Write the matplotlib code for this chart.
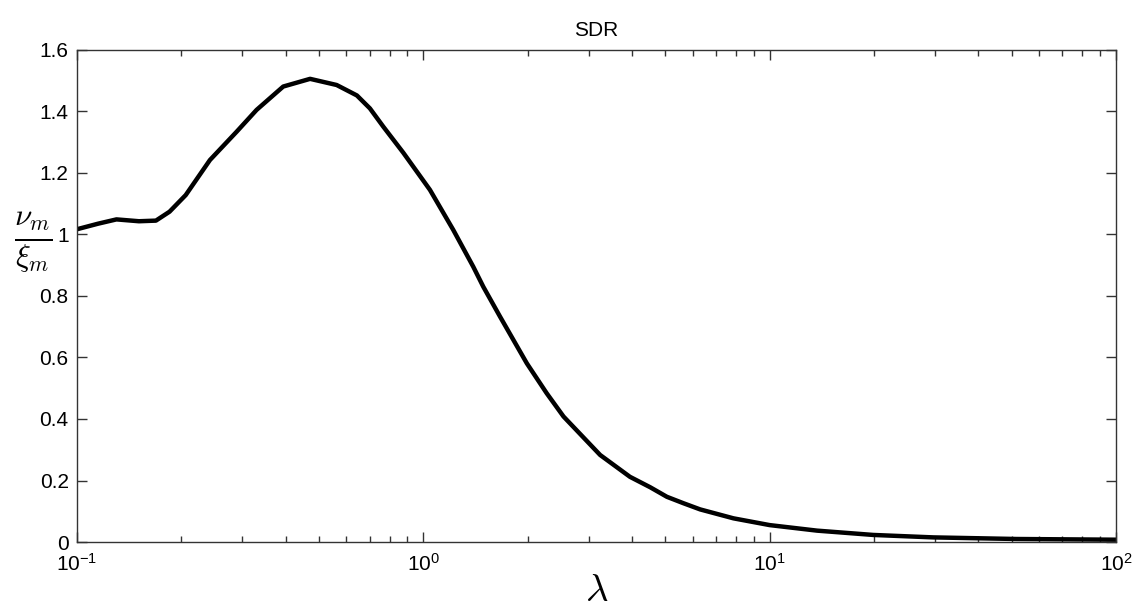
import matplotlib
matplotlib.use("Agg")
import matplotlib.pyplot as plt
from matplotlib.ticker import LogLocator, NullFormatter
import numpy as np

# values
lam = [0.1, 0.115, 0.130, 0.151, 0.169, 0.185, 0.206, 0.242, 0.289, 0.330,
       0.394, 0.471, 0.562, 0.643, 0.701, 0.767, 0.875, 1.045, 1.22, 1.394,
       1.49, 1.665, 1.99, 2.27, 2.54, 3.24, 3.95, 4.52, 5.05, 5.64, 6.3,
       7.86, 10.0, 13.7, 19.9, 29.7, 51.6, 100.0]
sdr = [1.017, 1.035, 1.049, 1.043, 1.045, 1.074, 1.128, 1.242, 1.334, 1.405,
       1.481, 1.506, 1.486, 1.452, 1.410, 1.350, 1.266, 1.145, 1.015, 0.895,
       0.830, 0.733, 0.581, 0.484, 0.408, 0.283, 0.212, 0.178, 0.147, 0.126,
       0.106, 0.077, 0.055, 0.037, 0.023, 0.015, 0.0098, 0.0075]

yticks = [0, 0.2, 0.4, 0.6, 0.8, 1, 1.2, 1.4, 1.6]
ytick_labels = ["0", "0.2", "0.4", "0.6", "0.8", "1", "1.2", "1.4", "1.6"]
xticks = [0.1, 1, 10, 100]
xtick_labels = [r"$\mathregular{10^{-1}}$", r"$\mathregular{10^{0}}$",
                r"$\mathregular{10^{1}}$", r"$\mathregular{10^{2}}$"]

plt.rcParams["font.family"] = ["Liberation Sans", "DejaVu Sans"]
plt.rcParams["mathtext.fontset"] = "custom"
plt.rcParams["mathtext.rm"] = "Liberation Sans"

fig = plt.figure(figsize=(11.34, 6.09), dpi=100)
ax = fig.add_axes([0.0679, 0.110, 0.9162, 0.808])

ax.plot(lam, sdr, color="black", lw=3.2, solid_capstyle="butt",
        solid_joinstyle="round")

ax.set_xscale("log")
ax.set_xlim(0.1, 100)
ax.set_ylim(0, 1.6)
ax.set_xticks(xticks)
ax.set_xticklabels(xtick_labels)
ax.xaxis.set_minor_locator(LogLocator(base=10, subs=np.arange(2, 10)))
ax.xaxis.set_minor_formatter(NullFormatter())
ax.set_yticks(yticks)
ax.set_yticklabels(ytick_labels)

ax.tick_params(which="both", direction="in", top=True, right=True,
               labelsize=15, colors="#333333", labelcolor="black")
ax.tick_params(which="major", length=7, width=1)
ax.tick_params(which="minor", length=4, width=1)
ax.tick_params(axis="x", which="major", pad=8)
ax.tick_params(axis="y", which="major", pad=6)
for s in ax.spines.values():
    s.set_color("#333333")
    s.set_linewidth(1)

ax.set_title("SDR", fontsize=15, pad=10)
ax.set_xlabel(r"$\lambda$", fontsize=28, math_fontfamily="cm")
ax.xaxis.set_label_coords(0.5, -0.062)
ax.set_ylabel(r"$\frac{\nu_m}{\xi_m}$", fontsize=32, rotation=0,
              math_fontfamily="cm", va="center", ha="center")
ax.yaxis.set_label_coords(-0.042, 0.61)

fig.savefig("out.png", dpi=100)
